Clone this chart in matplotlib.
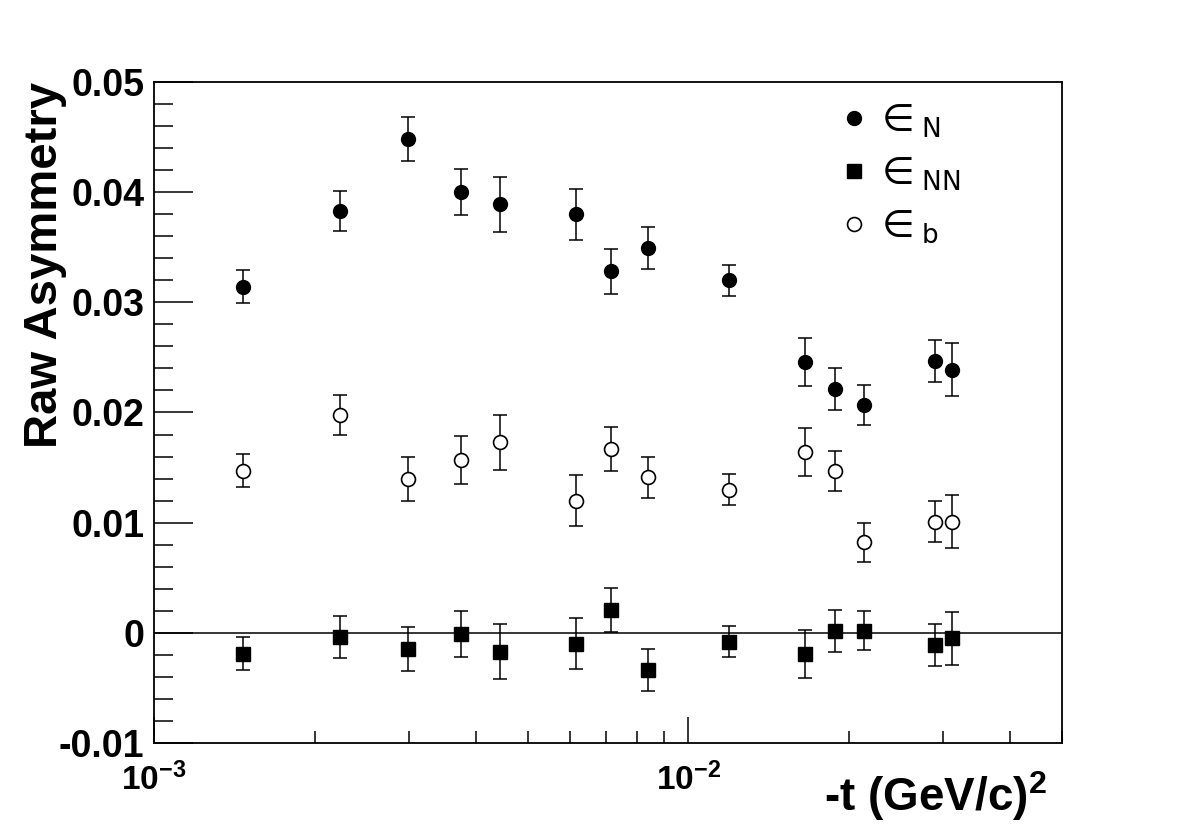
import numpy as np
import matplotlib
matplotlib.use('Agg')
import matplotlib.pyplot as plt

plt.rcParams['font.family'] = ['Liberation Sans', 'DejaVu Sans']
plt.rcParams['mathtext.fontset'] = 'custom'
plt.rcParams['mathtext.rm'] = 'DejaVu Sans'
plt.rcParams['mathtext.it'] = 'DejaVu Sans:italic'
plt.rcParams['mathtext.bf'] = 'Liberation Sans:bold'

# -t values (GeV/c)^2
t_vals = [0.00147, 0.00223, 0.00299, 0.00375, 0.00445, 0.00616, 0.00715,
          0.00840, 0.0119, 0.0165, 0.0188, 0.0213, 0.0289, 0.0312]

eps_N = [0.0314, 0.0383, 0.0448, 0.0400, 0.0389, 0.0380, 0.0328,
         0.0349, 0.0320, 0.0246, 0.0221, 0.0207, 0.0247, 0.0239]
eps_N_err = [0.0015, 0.0018, 0.0020, 0.0021, 0.0025, 0.0023, 0.0020,
             0.0019, 0.0014, 0.0022, 0.0019, 0.0018, 0.0019, 0.0024]

eps_NN = [-0.0019, -0.0004, -0.0015, -0.0001, -0.0017, -0.0010, 0.0021,
          -0.0034, -0.0008, -0.0019, 0.0002, 0.0002, -0.0011, -0.0005]
eps_NN_err = [0.0015, 0.0019, 0.0020, 0.0021, 0.0025, 0.0023, 0.0020,
              0.0019, 0.0014, 0.0022, 0.0019, 0.0018, 0.0019, 0.0024]

eps_b = [0.0147, 0.0198, 0.0140, 0.0157, 0.0173, 0.0120, 0.0167,
         0.0141, 0.0130, 0.0164, 0.0147, 0.0082, 0.0101, 0.0101]
eps_b_err = [0.0015, 0.0018, 0.0020, 0.0022, 0.0025, 0.0023, 0.0020,
             0.0019, 0.0014, 0.0022, 0.0018, 0.0018, 0.0019, 0.0024]

labels = [r'$\in_{\mathrm{N}}$', r'$\in_{\mathrm{NN}}$', r'$\in_{\mathrm{b}}$']

yticks = [-0.01, 0.0, 0.01, 0.02, 0.03, 0.04, 0.05]
ytick_labels = ['-0.01', '0', '0.01', '0.02', '0.03', '0.04', '0.05']
xticks = [1e-3, 1e-2]
xtick_labels = [r'$\mathbf{10^{-3}}$', r'$\mathbf{10^{-2}}$']

fig = plt.figure(figsize=(11.81, 8.35), dpi=100)
ax = fig.add_axes([0.1304, 0.1102, 0.7688, 0.7916])

ax.axhline(0, color='black', lw=1.1, zorder=1)

ebkw = dict(fmt='none', ecolor='black', elinewidth=1.1, capsize=5, capthick=1.1, zorder=2)
ax.errorbar(t_vals, eps_N, yerr=eps_N_err, **ebkw)
ax.errorbar(t_vals, eps_NN, yerr=eps_NN_err, **ebkw)
ax.errorbar(t_vals, eps_b, yerr=eps_b_err, **ebkw)

h1, = ax.plot(t_vals, eps_N, 'o', ms=10, mfc='black', mec='black', ls='none', zorder=3)
h2, = ax.plot(t_vals, eps_NN, 's', ms=9.5, mfc='black', mec='black', ls='none', zorder=3)
h3, = ax.plot(t_vals, eps_b, 'o', ms=10, mfc='white', mec='black', mew=1.2, ls='none', zorder=3)

ax.set_xscale('log')
ax.set_xlim(1e-3, 0.05)
ax.set_ylim(-0.01, 0.05)

ax.set_yticks(yticks, labels=ytick_labels)
ax.set_yticks(np.arange(-0.01, 0.0501, 0.002), minor=True)
ax.set_xticks(xticks, labels=xtick_labels)
ax.xaxis.set_minor_locator(matplotlib.ticker.LogLocator(base=10, subs=np.arange(2, 10), numticks=20))
ax.xaxis.set_minor_formatter(matplotlib.ticker.NullFormatter())

ax.tick_params(axis='y', which='major', direction='in', length=28, width=1.1, pad=7)
ax.tick_params(axis='y', which='minor', direction='in', length=14, width=1.1)
ax.tick_params(axis='x', which='major', direction='in', length=19, width=1.1, pad=14)
ax.tick_params(axis='x', which='minor', direction='in', length=9, width=1.1)
ax.tick_params(top=False, right=False, which='both')
for lab in ax.get_yticklabels():
    lab.set_fontsize(27)
    lab.set_fontweight('bold')
for lab in ax.get_xticklabels():
    lab.set_fontsize(24)
for sp in ax.spines.values():
    sp.set_linewidth(1.3)

ax.set_ylabel('Raw Asymmetry', fontsize=34, fontweight='bold', loc='top')
ax.yaxis.set_label_coords(-0.096, 1.0)
ax.set_xlabel(r'-t (GeV/c)$^{\mathbf{2}}$', fontsize=33, fontweight='bold', loc='right')
ax.xaxis.set_label_coords(0.983, -0.04)

ax.legend([h1, h2, h3], labels, loc='upper left', bbox_to_anchor=(0.7555, 0.969),
          frameon=False, fontsize=27, handlelength=0.75, handletextpad=0.15,
          labelspacing=0.42, borderpad=0, borderaxespad=0)

fig.savefig('out.png', dpi=100)
